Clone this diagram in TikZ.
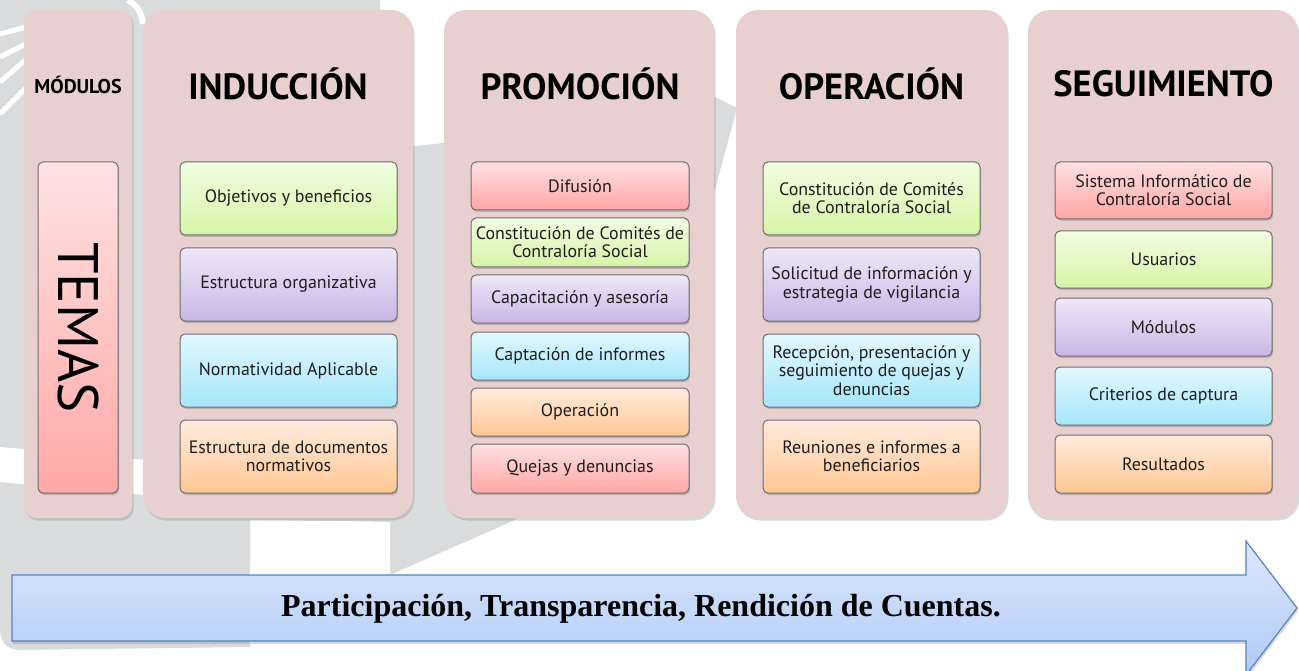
\documentclass[tikz,border=0pt]{standalone}
\usepackage{fontspec}
\setmainfont{PT Sans}
\newfontfamily\arrowfont{Liberation Serif}
\usetikzlibrary{shadows}

\definecolor{panel}{HTML}{E8D0D1}
\definecolor{wm}{HTML}{DADBDD}
\definecolor{boxline}{HTML}{6E6E6E}
\definecolor{txt}{HTML}{1E1E1E}
\definecolor{arrowline}{HTML}{5583C6}

\tikzset{
  panelbox/.style={fill=panel, rounded corners=22pt, inner sep=0pt,
    drop shadow={opacity=0.30, shadow xshift=1.5pt, shadow yshift=-2.5pt}},
  headtext/.style={font=\fontsize{36.5}{38}\selectfont\bfseries, text=black, inner sep=0pt},
  itembox/.style={draw=boxline, line width=1pt, rounded corners=5pt, inner sep=2pt,
    align=center, text=txt, font=\fontsize{17.9}{18.2}\selectfont, minimum width=217pt,
    drop shadow={opacity=0.40, shadow xshift=1pt, shadow yshift=-2pt}},
  redbox/.style={itembox, top color=red!12!white, bottom color=red!35!white},
  greenbox/.style={itembox, top color={rgb,255:red,242;green,253;blue,226}, bottom color={rgb,255:red,214;green,245;blue,166}},
  purplebox/.style={itembox, top color={rgb,255:red,238;green,232;blue,248}, bottom color={rgb,255:red,203;green,182;blue,230}},
  cyanbox/.style={itembox, top color={rgb,255:red,227;green,248;blue,255}, bottom color={rgb,255:red,166;green,230;blue,251}},
  orangebox/.style={itembox, top color={rgb,255:red,255;green,235;blue,221}, bottom color={rgb,255:red,255;green,199;blue,147}},
  pinkbox/.style={itembox, top color={rgb,255:red,255;green,226;blue,226}, bottom color={rgb,255:red,255;green,168;blue,168}},
}

\begin{document}
\begin{tikzpicture}[x=1pt,y=-1pt]
\useasboundingbox (0,0) rectangle (1299,671);
% watermark
\fill[wm] (0,0) -- (380,0) -- (380,150) -- (443,143) -- (715,97) -- (737,108)
  -- (715,190) -- (515,520) -- (390,575) -- (390,522) -- (250,520) -- (250,647)
  -- (22,650) .. controls (6,650) and (0,642) .. (0,628) -- cycle;
\fill[white] (0,447) -- (145,460) -- (145,495) -- (0,482) -- cycle;
\fill[white] (250,520) -- (390,522) -- (390,575) -- (300,560) -- cycle;
\draw[white, line width=5pt] (0,34) -- (30,26);
\draw[white, line width=5pt] (0,57) -- (30,42);
\draw[white, line width=5pt] (0,82) -- (30,56);
\draw[white, line width=5pt] (0,114) -- (30,84);
\draw[white, line width=6pt] (128,0) .. controls (138,6) and (142,14) .. (143,24);

% panels
\node[panelbox, rounded corners=12pt, minimum width=108pt, minimum height=508pt] (pm) at (78,264) {};
\node[panelbox, minimum width=270pt, minimum height=508pt] (pi) at (278,264) {};
\node[panelbox, minimum width=270pt, minimum height=508pt] (pp) at (579,264) {};
\node[panelbox, minimum width=271pt, minimum height=508pt] (po) at (871.5,264) {};
\node[panelbox, minimum width=270pt, minimum height=508pt] (ps) at (1163,264) {};

% headers
\node[headtext, font=\fontsize{20}{21}\selectfont\bfseries] (hm) at (78,84.5) {MÓDULOS};
\node[headtext] (hi) at (278,84) {INDUCCIÓN};
\node[headtext] (hp) at (580,84) {PROMOCIÓN};
\node[headtext] (ho) at (871.5,84) {OPERACIÓN};
\node[headtext] (hs) at (1163.5,84) {SEGUIMIENTO};

% temas
\node[pinkbox, minimum width=80pt, minimum height=331pt] (tm) at (78,327.5) {};
\node[rotate=-90, font=\fontsize{57}{60}\selectfont, text=black, inner sep=0pt] (tmt) at (tm.center) {TEMAS};

% induccion
\node[greenbox, minimum height=73pt] (i1) at (288.5,198.5) {Objetivos y beneficios};
\node[purplebox, minimum height=73pt] (i2) at (288.5,284.5) {Estructura organizativa};
\node[cyanbox, minimum height=73pt] (i3) at (288.5,370.5) {Normatividad Aplicable};
\node[orangebox, minimum height=73pt] (i4) at (288.5,456.5) {Estructura de documentos\\normativos};

% promocion
\node[redbox, minimum width=218pt, minimum height=48pt] (p1) at (580,186) {Difusión};
\node[greenbox, minimum width=218pt, minimum height=49pt] (p2) at (580,242.5) {Constitución de Comités de\\Contraloría Social};
\node[purplebox, minimum width=218pt, minimum height=48pt] (p3) at (580,299) {Capacitación y asesoría};
\node[cyanbox, minimum width=218pt, minimum height=48pt] (p4) at (580,356) {Captación de informes};
\node[orangebox, minimum width=218pt, minimum height=48pt] (p5) at (580,412) {Operación};
\node[redbox, minimum width=218pt, minimum height=49pt] (p6) at (580,468.5) {Quejas y denuncias};

% operacion
\node[greenbox, minimum height=73pt] (o1) at (871.5,198.5) {Constitución de Comités\\de Contraloría Social};
\node[purplebox, minimum height=73pt] (o2) at (871.5,284.5) {Solicitud de información y\\estrategia de vigilancia};
\node[cyanbox, minimum height=73pt] (o3) at (871.5,370.5) {Recepción, presentación y\\seguimiento de quejas y\\denuncias};
\node[orangebox, minimum height=73pt] (o4) at (871.5,456.5) {Reuniones e informes a\\beneficiarios};

% seguimiento
\node[redbox, minimum height=57pt] (s1) at (1163.5,190.5) {Sistema Informático de\\Contraloría Social};
\node[greenbox, minimum height=57pt] (s2) at (1163.5,259.5) {Usuarios};
\node[purplebox, minimum height=58pt] (s3) at (1163.5,327) {Módulos};
\node[cyanbox, minimum height=58pt] (s4) at (1163.5,396) {Criterios de captura};
\node[orangebox, minimum height=58pt] (s5) at (1163.5,464) {Resultados};

% arrow
\path[draw=arrowline, line width=1.2pt, top color={rgb,255:red,221;green,231;blue,252}, bottom color={rgb,255:red,176;green,202;blue,246},
  drop shadow={opacity=0.30, shadow xshift=1pt, shadow yshift=-3pt}]
  (12,575) -- (1246,575) -- (1246,541) -- (1297,608) -- (1246,675) -- (1246,641) -- (12,641) -- cycle;
\node[font=\arrowfont\bfseries\fontsize{32}{33}\selectfont, text=black, inner sep=0pt] (at) at (641,609) {Participación, Transparencia, Rendición de Cuentas.};
\end{tikzpicture}
\end{document}
